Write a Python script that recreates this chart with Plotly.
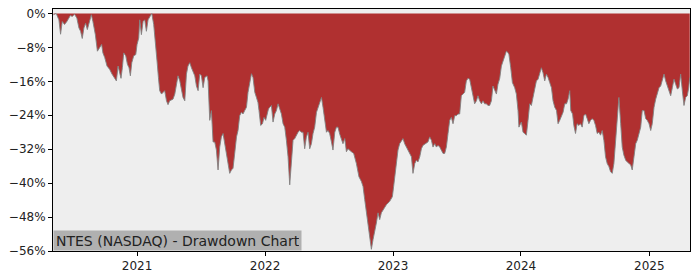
import plotly.graph_objects as go
from datetime import datetime, timedelta

# decimal-year timestamps and drawdown values (%)
years = [
    2020.349, 2020.370, 2020.391, 2020.404, 2020.417, 2020.435, 2020.453, 2020.469, 2020.480, 2020.495,
    2020.513, 2020.531, 2020.547, 2020.560, 2020.573, 2020.586, 2020.599, 2020.6125, 2020.625, 2020.644,
    2020.656, 2020.675, 2020.691, 2020.709, 2020.724, 2020.734, 2020.748, 2020.766, 2020.787, 2020.805,
    2020.820, 2020.839, 2020.852, 2020.865, 2020.875, 2020.886, 2020.896, 2020.912, 2020.925, 2020.9375,
    2020.948, 2020.959, 2020.974, 2020.990, 2021.000, 2021.013, 2021.021, 2021.034, 2021.047, 2021.060,
    2021.073, 2021.086, 2021.105, 2021.115, 2021.130, 2021.144, 2021.156, 2021.167, 2021.177, 2021.191,
    2021.203, 2021.216, 2021.230, 2021.242, 2021.255, 2021.269, 2021.281, 2021.295, 2021.308, 2021.320,
    2021.334, 2021.347, 2021.359, 2021.373, 2021.386, 2021.398, 2021.412, 2021.425, 2021.4375, 2021.451,
    2021.464, 2021.477, 2021.490, 2021.503, 2021.516, 2021.529, 2021.547, 2021.555, 2021.568, 2021.581,
    2021.594, 2021.607, 2021.620, 2021.633, 2021.646, 2021.659, 2021.672, 2021.685, 2021.698, 2021.711,
    2021.724, 2021.7375, 2021.750, 2021.763, 2021.777, 2021.789, 2021.802, 2021.816, 2021.828, 2021.841,
    2021.855, 2021.867, 2021.880, 2021.894, 2021.906, 2021.920, 2021.933, 2021.945, 2021.953, 2021.966,
    2021.980, 2021.992, 2022.005, 2022.016, 2022.027, 2022.037, 2022.050, 2022.0625, 2022.076, 2022.089,
    2022.102, 2022.115, 2022.128, 2022.141, 2022.154, 2022.167, 2022.180, 2022.193, 2022.206, 2022.219,
    2022.232, 2022.245, 2022.258, 2022.271, 2022.284, 2022.297, 2022.310, 2022.323, 2022.336, 2022.349,
    2022.3625, 2022.375, 2022.388, 2022.402, 2022.414, 2022.427, 2022.441, 2022.453, 2022.466, 2022.480,
    2022.492, 2022.505, 2022.519, 2022.531, 2022.545, 2022.558, 2022.570, 2022.584, 2022.609, 2022.623,
    2022.636, 2022.648, 2022.675, 2022.693, 2022.714, 2022.734, 2022.753, 2022.766, 2022.779, 2022.792,
    2022.805, 2022.818, 2022.831, 2022.844, 2022.857, 2022.870, 2022.883, 2022.896, 2022.909, 2022.922,
    2022.948, 2022.974, 2022.995, 2023.005, 2023.013, 2023.027, 2023.039, 2023.052, 2023.066, 2023.078,
    2023.091, 2023.105, 2023.117, 2023.130, 2023.144, 2023.156, 2023.170, 2023.183, 2023.195, 2023.209,
    2023.222, 2023.234, 2023.255, 2023.273, 2023.287, 2023.300, 2023.3125, 2023.326, 2023.339, 2023.352,
    2023.365, 2023.378, 2023.391, 2023.404, 2023.417, 2023.430, 2023.443, 2023.456, 2023.469, 2023.482,
    2023.495, 2023.508, 2023.521, 2023.534, 2023.547, 2023.560, 2023.573, 2023.586, 2023.599, 2023.6125,
    2023.625, 2023.638, 2023.652, 2023.664, 2023.677, 2023.691, 2023.703, 2023.716, 2023.730, 2023.742,
    2023.755, 2023.769, 2023.781, 2023.795, 2023.808, 2023.820, 2023.834, 2023.847, 2023.859, 2023.873,
    2023.886, 2023.898, 2023.906, 2023.920, 2023.933, 2023.951, 2023.964, 2023.977, 2023.984, 2024.003,
    2024.016, 2024.029, 2024.042, 2024.055, 2024.068, 2024.081, 2024.094, 2024.107, 2024.120, 2024.133,
    2024.146, 2024.159, 2024.172, 2024.185, 2024.198, 2024.211, 2024.224, 2024.2375, 2024.250, 2024.263,
    2024.277, 2024.289, 2024.302, 2024.316, 2024.328, 2024.341, 2024.355, 2024.367, 2024.380, 2024.388,
    2024.402, 2024.412, 2024.425, 2024.4375, 2024.451, 2024.464, 2024.477, 2024.490, 2024.503, 2024.516,
    2024.529, 2024.542, 2024.555, 2024.568, 2024.581, 2024.594, 2024.607, 2024.620, 2024.633, 2024.646,
    2024.659, 2024.672, 2024.685, 2024.698, 2024.711, 2024.724, 2024.7375, 2024.750, 2024.763, 2024.777,
    2024.789, 2024.802, 2024.816, 2024.828, 2024.841, 2024.855, 2024.867, 2024.880, 2024.894, 2024.906,
    2024.920, 2024.933, 2024.945, 2024.959, 2024.972, 2024.984, 2024.998, 2025.011, 2025.023, 2025.037,
    2025.050, 2025.0625, 2025.076, 2025.089, 2025.102, 2025.115, 2025.128, 2025.141, 2025.154, 2025.167,
    2025.180, 2025.193, 2025.206, 2025.219, 2025.232, 2025.245, 2025.258, 2025.271, 2025.284, 2025.297,
    2025.308, 2025.316,
]
drawdown = [
    -0.3, 0.0, -1.5, -4.9, -1.9, -2.6, -1.9, -1.1, -0.5, -0.7,
    -0.2, -1.1, -3.4, -4.2, -5.9, -3.4, -2.3, -3.8, -2.6, -0.3,
    -1.9, -5.0, -8.9, -8.1, -7.3, -9.3, -10.4, -12.4, -13.2, -14.3,
    -15.0, -15.9, -12.4, -13.9, -15.3, -12.7, -9.3, -10.0, -12.0, -12.8,
    -14.7, -11.6, -10.0, -9.7, -7.3, -5.8, -1.5, -5.0, -1.9, -1.5,
    -4.2, -1.5, -0.5, 0.0, -2.6, -6.5, -11.2, -15.1, -18.2, -19.0,
    -18.6, -18.2, -20.6, -21.5, -20.6, -20.4, -20.2, -19.0, -16.7, -14.7,
    -15.9, -17.8, -19.8, -20.6, -14.3, -12.4, -11.6, -12.8, -13.6, -14.7,
    -17.1, -18.2, -14.3, -14.7, -17.5, -15.1, -14.7, -15.9, -25.2, -22.9,
    -30.3, -30.3, -32.2, -36.9, -31.5, -29.1, -28.3, -30.7, -33.8, -36.1,
    -37.7, -36.9, -36.5, -33.0, -29.1, -27.6, -24.1, -23.3, -23.7, -22.9,
    -22.1, -18.6, -15.9, -14.2, -15.1, -18.6, -19.8, -21.0, -22.9, -26.4,
    -26.0, -24.5, -25.2, -23.7, -22.5, -22.1, -21.7, -25.6, -23.7, -22.9,
    -21.3, -22.5, -23.7, -26.0, -26.8, -29.9, -33.8, -40.4, -33.8, -29.9,
    -29.5, -28.7, -28.0, -27.6, -28.0, -28.0, -31.9, -29.1, -28.0, -31.9,
    -30.7, -28.3, -26.8, -23.3, -22.1, -20.6, -19.8, -22.1, -25.2, -28.0,
    -27.6, -28.3, -30.3, -32.2, -28.0, -26.8, -26.8, -28.5, -30.7, -29.5,
    -32.6, -31.9, -32.6, -33.0, -35.4, -38.5, -39.6, -40.8, -43.9, -47.0,
    -49.4, -53.3, -55.6, -53.3, -51.7, -49.4, -47.0, -48.6, -47.0, -46.3,
    -45.1, -44.3, -43.2, -40.8, -38.5, -35.4, -32.2, -30.7, -29.9, -29.5,
    -30.7, -31.5, -32.2, -33.0, -33.8, -37.7, -35.4, -34.6, -35.0, -33.8,
    -31.9, -31.1, -30.7, -30.3, -29.1, -29.9, -31.5, -30.7, -31.5, -31.1,
    -31.5, -32.2, -33.0, -33.0, -31.5, -28.3, -25.2, -24.5, -26.0, -24.1,
    -24.1, -23.7, -23.7, -19.4, -19.0, -18.6, -15.9, -15.3, -15.5, -17.8,
    -19.8, -21.3, -20.6, -19.4, -20.6, -21.3, -20.6, -21.3, -21.3, -21.7,
    -21.7, -20.6, -17.1, -18.2, -19.0, -16.7, -15.3, -12.4, -11.4, -10.0,
    -8.9, -9.2, -9.7, -12.8, -16.3, -17.5, -19.0, -22.9, -26.8, -25.6,
    -28.0, -28.3, -28.7, -25.2, -21.3, -21.7, -19.8, -17.1, -15.9, -15.5,
    -14.3, -12.8, -14.0, -15.9, -14.3, -15.1, -16.3, -17.5, -20.6, -22.1,
    -22.9, -26.0, -25.2, -24.1, -23.3, -21.3, -21.3, -20.2, -18.2, -22.9,
    -23.7, -26.4, -28.3, -26.0, -26.4, -26.0, -26.8, -24.1, -23.7, -24.8,
    -26.0, -25.2, -24.8, -25.2, -26.4, -28.3, -28.0, -28.7, -27.6, -29.9,
    -33.8, -35.4, -36.1, -37.3, -37.7, -35.4, -29.1, -24.5, -19.8, -26.0,
    -31.5, -33.4, -34.6, -35.0, -35.4, -35.7, -36.9, -33.8, -30.7, -29.9,
    -28.3, -26.8, -22.9, -22.9, -24.8, -25.2, -26.0, -27.6, -26.0, -22.1,
    -20.2, -18.6, -17.5, -17.1, -15.9, -14.3, -15.9, -17.1, -18.2, -19.4,
    -17.5, -15.5, -16.7, -17.8, -17.5, -14.3, -18.2, -21.7, -19.8, -19.4,
    -17.5, -15.1,
]
y_ticks = [0, -8, -16, -24, -32, -40, -48, -56]
x_tick_years = [2021, 2022, 2023, 2024, 2025]
title_text = "NTES (NASDAQ) - Drawdown Chart"
x_range_years = [2020.345, 2025.318]


def to_date(y):
    yr = int(y)
    start = datetime(yr, 1, 1)
    length = (datetime(yr + 1, 1, 1) - start).days
    return start + timedelta(days=(y - yr) * length)


dates = [to_date(v) for v in years]

fig = go.Figure()
fig.add_trace(go.Scatter(
    x=dates, y=drawdown, mode="lines", fill="tozeroy",
    fillcolor="rgb(176,48,48)",
    line=dict(color="rgba(130,130,130,0.9)", width=1),
    hoverinfo="skip", showlegend=False,
))

fig.update_layout(
    width=700, height=280,
    margin=dict(l=53, r=10, t=7, b=28),
    paper_bgcolor="white",
    plot_bgcolor="rgb(238,238,238)",
    font=dict(family="DejaVu Sans", size=12, color="#222"),
    showlegend=False,
)
fig.update_xaxes(
    type="date",
    range=[to_date(x_range_years[0]), to_date(x_range_years[1])],
    tickvals=[datetime(y, 1, 1) for y in x_tick_years],
    ticktext=[str(y) for y in x_tick_years],
    ticks="outside", ticklen=4, tickcolor="black", tickwidth=1,
    tickfont=dict(size=12),
    showline=True, linecolor="black", linewidth=1, mirror=True,
    showgrid=False, zeroline=False,
)
fig.update_yaxes(
    range=[-56, 1.05],
    tickvals=y_ticks,
    ticktext=[("\u2212" if v < 0 else "") + f"{abs(v)}%" for v in y_ticks],
    ticks="outside", ticklen=4, tickcolor="black", tickwidth=1,
    tickfont=dict(size=12),
    showline=True, linecolor="black", linewidth=1, mirror=True,
    showgrid=False, zeroline=False,
)
fig.add_annotation(
    xref="paper", yref="paper", x=0, y=0, xanchor="left", yanchor="bottom",
    text=title_text, showarrow=False, align="left",
    font=dict(family="DejaVu Sans", size=14, color="#222"),
    bgcolor="rgb(176,176,176)", width=243, height=15, borderpad=2,
)

fig.write_html("out.html")
